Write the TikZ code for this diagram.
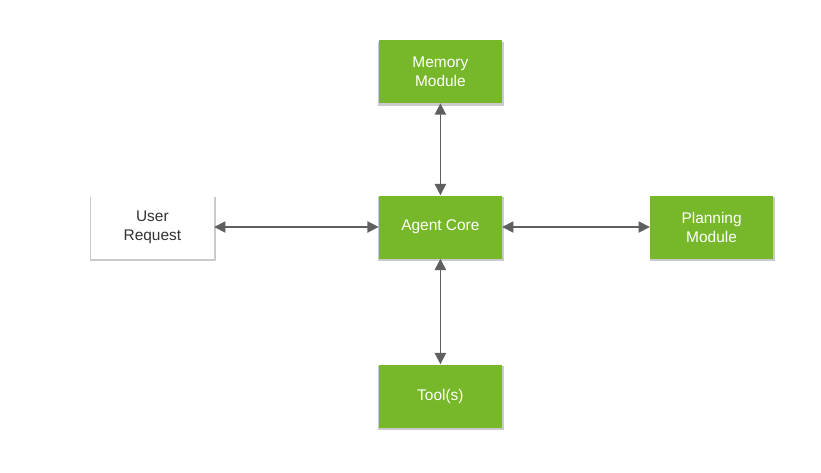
\documentclass[tikz,border=0pt]{standalone}
\usepackage{fontspec}
\setmainfont{Liberation Sans}
\usetikzlibrary{arrows.meta,shadows}
\definecolor{agentgreen}{HTML}{76B82A}
\definecolor{arrowgray}{HTML}{5F5F5F}
\definecolor{textgray}{HTML}{333333}

\begin{document}
\begin{tikzpicture}[
    box/.style={minimum width=3.075cm, minimum height=1.575cm, align=center,
        font=\fontsize{11}{13.5}\selectfont,
        drop shadow={shadow xshift=0.5pt, shadow yshift=-1.5pt, shadow scale=1.02,
            fill=black!60, opacity=0.35}},
    greenbox/.style={box, fill=agentgreen, text=white},
    whitebox/.style={box, fill=white, text=textgray},
    link/.style={draw=arrowgray, line width=1.1pt,
        {Triangle[width=8pt,length=8pt]}-{Triangle[width=8pt,length=8pt]}}]
    \useasboundingbox (0,0) rectangle (20.525,-11.8);
    \node[greenbox] (mem) at (11.01,-1.79) {Memory\\Module};
    \node[greenbox] (core) at (11.01,-5.675) {Agent Core};
    \node[whitebox] (user) at (3.81,-5.675) {User\\Request};
    \node[greenbox] (plan) at (17.79,-5.675) {Planning\\Module};
    \node[greenbox] (tools) at (11.01,-9.9) {Tool(s)};
    \draw[link] (core) edge[link] (mem) edge[link] (user) edge[link] (plan) edge[link] (tools);
\end{tikzpicture}
\end{document}
